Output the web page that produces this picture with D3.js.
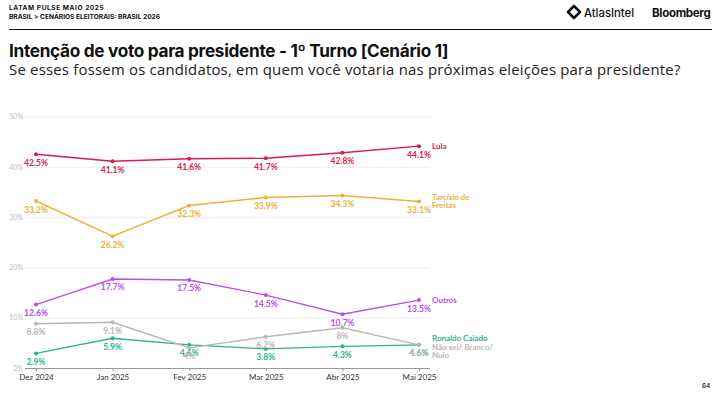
<!DOCTYPE html>
<html><head><meta charset="utf-8">
<script src="https://cdn.jsdelivr.net/npm/d3@7"></script>
<style>
body{margin:0;background:#fff;}
svg{display:block;}
</style></head>
<body>
<svg id="c" width="716" height="395"></svg>
<script>
const months = ["Dez 2024","Jan 2025","Fev 2025","Mar 2025","Abr 2025","Mai 2025"];
const yTicks = [0,10,20,30,40,50];
const seriesNames = ["Lula","Tarcísio de Freitas","Outros","Ronaldo Caiado","Não sei/ Branco/ Nulo"];
const nameLines = [["Lula"],["Tarcísio de","Freitas"],["Outros"],["Ronaldo Caiado"],["Não sei/ Branco/","Nulo"]];
const lula = [42.5,41.1,41.6,41.7,42.8,44.1];
const tarcisio = [33.2,26.2,32.3,33.9,34.3,33.1];
const outros = [12.6,17.7,17.5,14.5,10.7,13.5];
const caiado = [2.9,5.9,4.6,3.8,4.3,4.6];
const naosei = [8.8,9.1,4,6.2,8,4.6];
const colors = ["#d81e4c","#ecb13c","#b850f0","#2db38e","#bbb6b1"];

const values = [lula,tarcisio,outros,caiado,naosei];
const svg = d3.select("#c");

// Header
svg.append("text").attr("x",9).attr("y",10).attr("font-family","Inter, sans-serif").attr("font-weight",700)
  .attr("font-size",6.6).attr("letter-spacing",0.55).attr("fill","#111").text("LATAM PULSE MAIO 2025");
svg.append("text").attr("x",9).attr("y",18.5).attr("font-family","Inter, sans-serif").attr("font-weight",700)
  .attr("font-size",6.6).attr("fill","#111").text("BRASIL > CENÁRIOS ELEITORAIS: BRASIL 2026");
svg.append("line").attr("x1",9).attr("x2",712).attr("y1",29.5).attr("y2",29.5).attr("stroke","#111").attr("stroke-width",1);

// Logos
const lg = svg.append("g").attr("transform","translate(574,12)");
lg.append("path").attr("d","M0,-6 L6,0 L0,6 L-6,0 Z").attr("fill","none").attr("stroke","#111").attr("stroke-width",2.6).attr("stroke-linejoin","round");
svg.append("text").attr("x",584).attr("y",16.5).attr("font-family","Inter, sans-serif").attr("font-weight",500)
  .attr("font-size",11.3).attr("fill","#111").text("AtlasIntel");
svg.append("text").attr("x",652).attr("y",16.5).attr("font-family","Inter, sans-serif").attr("font-weight",700)
  .attr("font-size",11.5).attr("fill","#111").attr("letter-spacing",-0.3).text("Bloomberg");

// Title
svg.append("text").attr("x",9).attr("y",57).attr("font-family","Inter, sans-serif").attr("font-weight",700)
  .attr("font-size",17.2).attr("fill","#111").attr("letter-spacing",-0.3).text("Intenção de voto para presidente - 1º Turno [Cenário 1]");
svg.append("text").attr("x",9).attr("y",74.5).attr("font-family","Open Sans, sans-serif")
  .attr("font-size",14.9).attr("letter-spacing",0.22).attr("fill","#222").text("Se esses fossem os candidatos, em quem você votaria nas próximas eleições para presidente?");

// Scales
const x = d3.scalePoint().domain(months).range([36,419]);
const y = d3.scaleLinear().domain([0,50]).range([368,116.5]);
const gx0 = 25, gx1 = 430;

// gridlines
svg.append("g").selectAll("line").data(yTicks.filter(d=>d>0)).join("line")
  .attr("x1",gx0).attr("x2",gx1).attr("y1",d=>y(d)+0.5).attr("y2",d=>y(d)+0.5)
  .attr("stroke","#eeeeee").attr("stroke-width",1);

// y axis labels
const yAxis = d3.axisLeft(y).tickValues(yTicks).tickFormat(d=>d+"%").tickSize(0).tickPadding(0);
const ya = svg.append("g").attr("transform",`translate(${gx0-2},0)`).call(yAxis);
ya.select(".domain").remove();
ya.selectAll("text").attr("font-family","Lato, sans-serif").attr("font-size",7).attr("fill","#bbbbbb");

// x axis
const xAxis = d3.axisBottom(x).tickSize(3).tickPadding(3);
const xa = svg.append("g").attr("transform",`translate(0,${y(0)})`).call(xAxis);
xa.select(".domain").attr("d",`M${gx0},0.5H${gx1}`).attr("stroke","#999");
xa.selectAll(".tick line").attr("stroke","#999");
xa.selectAll("text").attr("font-family","Lato, sans-serif").attr("font-size",8).attr("fill","#333");

// lines
const line = d3.line().x((d,i)=>x(months[i])).y(d=>y(d));
const order = [0,1,2,3,4];
order.forEach(s=>{
  svg.append("path").datum(values[s]).attr("d",line).attr("fill","none")
    .attr("stroke",colors[s]).attr("stroke-width",1.4);
  svg.append("g").selectAll("circle").data(values[s]).join("circle")
    .attr("cx",(d,i)=>x(months[i])).attr("cy",d=>y(d)).attr("r",2).attr("fill",colors[s]);
});
order.forEach(s=>{
  svg.append("g").selectAll("text").data(values[s]).join("text")
    .attr("x",(d,i)=>x(months[i])).attr("y",d=>y(d)+11.5).attr("text-anchor","middle")
    .attr("font-family","Lato, sans-serif").attr("font-weight",700).attr("font-size",8.5)
    .attr("fill",colors[s]).text(d=>d+"%");
});

// series name labels with simple collision avoidance
const lh = 7.9;
const blocks = values.map((v,s)=>({s, h: nameLines[s].length*lh, c: y(v[v.length-1])}));
blocks.sort((a,b)=>a.c-b.c);
for(let it=0; it<50; it++){
  for(let i=1;i<blocks.length;i++){
    const a=blocks[i-1], b=blocks[i];
    const gap = (b.c - b.h/2) - (a.c + a.h/2);
    if(gap < 1.2){ const d=(1.2-gap)/2; a.c-=d; b.c+=d; }
  }
}
blocks.forEach(b=>{
  const t = svg.append("text").attr("font-family","Lato, sans-serif").attr("font-weight",700)
    .attr("font-size",8).attr("fill",colors[b.s]);
  nameLines[b.s].forEach((ln,j)=>{
    t.append("tspan").attr("x",432).attr("y", b.c - b.h/2 + lh*j + lh*0.5 + 2.8).text(ln);
  });
});

// page number
svg.append("text").attr("x",702).attr("y",388).attr("font-family","Inter, sans-serif").attr("font-weight",500)
  .attr("font-size",6.5).attr("fill","#111").text("64");
</script>
</body></html>
